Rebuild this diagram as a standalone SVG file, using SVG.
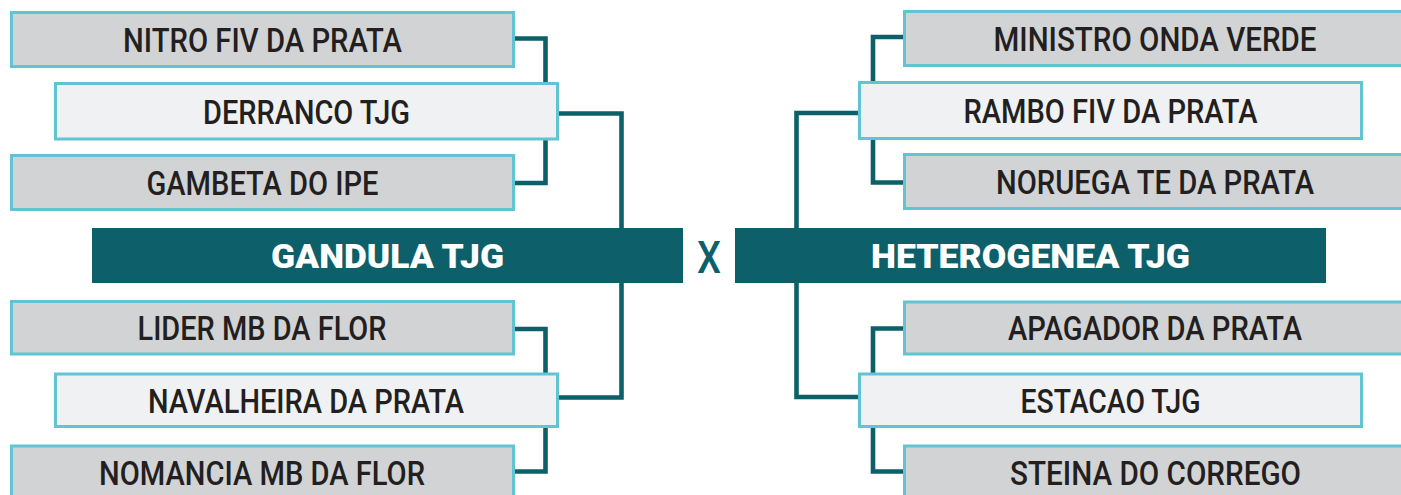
<svg xmlns="http://www.w3.org/2000/svg" width="1401" height="495" viewBox="0 0 1401 495">
<style>
.g{fill:#d1d3d5;stroke:#62c4d2;stroke-width:3}
.l{fill:#eff1f3;stroke:#62c4d2;stroke-width:3}
.bar{fill:#0d5f6a}
.c{fill:none;stroke:#0d5f6a;stroke-width:4.6;stroke-linejoin:miter;stroke-linecap:butt}
.t{font-family:Roboto,"Liberation Sans",sans-serif;font-weight:500;font-size:34px;fill:#231f20;text-anchor:middle}
.bt{font-family:Roboto,"Liberation Sans",sans-serif;font-weight:900;font-size:33px;fill:#ffffff;text-anchor:middle}
.x{font-family:Roboto,"Liberation Sans",sans-serif;font-weight:500;font-size:45px;fill:#0d5f6a;text-anchor:middle}
</style>
<rect width="1401" height="495" fill="#ffffff"/>
<g id="connectors">
<path class="c" d="M515,38.5 H545.5 V83"/>
<path class="c" d="M545.5,140 V183 H515"/>
<path class="c" d="M559,113.5 H621.5 V229"/>
<path class="c" d="M621.5,282 V397.5 H559"/>
<path class="c" d="M515,329 H545.5 V374"/>
<path class="c" d="M545.5,427 V471.5 H515"/>
<path class="c" d="M903,37 H873 V82"/>
<path class="c" d="M873,139 V182.5 H903"/>
<path class="c" d="M858.5,113 H796.5 V229"/>
<path class="c" d="M796.5,282 V397 H858.5"/>
<path class="c" d="M903,328.5 H873 V374"/>
<path class="c" d="M873,427 V471.5 H903"/>
</g>
<g id="nitro"><rect class="g" x="11.5" y="12.5" width="502" height="54"/><text class="t" x="262.5" y="52" textLength="279" lengthAdjust="spacingAndGlyphs">NITRO FIV DA PRATA</text></g>
<g id="derranco"><rect class="l" x="55.5" y="83.5" width="502" height="55.5"/><text class="t" x="306.5" y="123.5" textLength="207" lengthAdjust="spacingAndGlyphs">DERRANCO TJG</text></g>
<g id="gambeta"><rect class="g" x="11.5" y="155.5" width="502" height="54"/><text class="t" x="262.5" y="195" textLength="232" lengthAdjust="spacingAndGlyphs">GAMBETA DO IPE</text></g>
<g id="gandula"><rect class="bar" x="92" y="228" width="591" height="55"/><text class="bt" x="387.5" y="267.5" textLength="233" lengthAdjust="spacingAndGlyphs">GANDULA TJG</text></g>
<g id="lider"><rect class="g" x="11.5" y="301.5" width="502" height="52.5"/><text class="t" x="262" y="340" textLength="249" lengthAdjust="spacingAndGlyphs">LIDER MB DA FLOR</text></g>
<g id="navalheira"><rect class="l" x="55.5" y="374" width="502" height="52.5"/><text class="t" x="306" y="412.5" textLength="316" lengthAdjust="spacingAndGlyphs">NAVALHEIRA DA PRATA</text></g>
<g id="nomancia"><rect class="g" x="11.5" y="446" width="502" height="54"/><text class="t" x="262" y="485" textLength="326" lengthAdjust="spacingAndGlyphs">NOMANCIA MB DA FLOR</text></g>
<g id="versus"><text class="x" x="709" y="273" textLength="24" lengthAdjust="spacingAndGlyphs">X</text></g>
<g id="ministro"><rect class="g" x="904.5" y="11.5" width="502" height="54"/><text class="t" x="1155" y="51" textLength="323" lengthAdjust="spacingAndGlyphs">MINISTRO ONDA VERDE</text></g>
<g id="rambo"><rect class="l" x="859.5" y="82.5" width="502" height="56"/><text class="t" x="1110.5" y="123" textLength="294" lengthAdjust="spacingAndGlyphs">RAMBO FIV DA PRATA</text></g>
<g id="noruega"><rect class="g" x="904.5" y="154.5" width="502" height="54"/><text class="t" x="1155" y="194" textLength="318" lengthAdjust="spacingAndGlyphs">NORUEGA TE DA PRATA</text></g>
<g id="heterogenea"><rect class="bar" x="735" y="228" width="591" height="55"/><text class="bt" x="1030.5" y="267.5" textLength="319" lengthAdjust="spacingAndGlyphs">HETEROGENEA TJG</text></g>
<g id="apagador"><rect class="g" x="904.5" y="302" width="502" height="52"/><text class="t" x="1155" y="340" textLength="294" lengthAdjust="spacingAndGlyphs">APAGADOR DA PRATA</text></g>
<g id="estacao"><rect class="l" x="859.5" y="374" width="502" height="52.5"/><text class="t" x="1110.5" y="412.5" textLength="180" lengthAdjust="spacingAndGlyphs">ESTACAO TJG</text></g>
<g id="steina"><rect class="g" x="904.5" y="446" width="502" height="54"/><text class="t" x="1155.5" y="485" textLength="291" lengthAdjust="spacingAndGlyphs">STEINA DO CORREGO</text></g>
</svg>
